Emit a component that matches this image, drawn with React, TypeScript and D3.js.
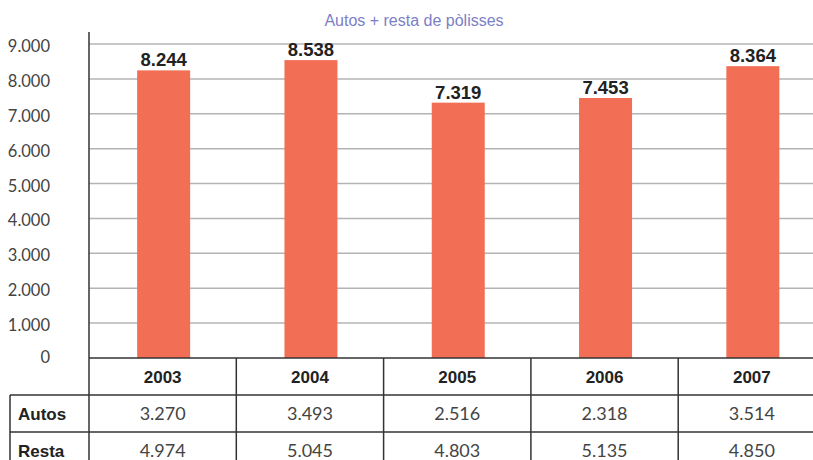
import React from 'react'
import * as d3 from 'd3'

const years = ['2003', '2004', '2005', '2006', '2007']
const autos = [3270, 3493, 2516, 2318, 3514]
const resta = [4974, 5045, 4803, 5135, 4850]
const totals = [8244, 8538, 7319, 7453, 8364]
const yTicks = [0, 1000, 2000, 3000, 4000, 5000, 6000, 7000, 8000, 9000]
const rowLabels = ['Autos', 'Resta']

const W = 813
const H = 460
const fmt = (v: number) => d3.format(',')(v).replace(/,/g, '.')

function App() {
  const left = 89
  const colW = 147.3
  const y = d3.scaleLinear().domain([0, 9000]).range([358, 44])
  const x = d3.scaleBand<string>().domain(years).range([left, left + colW * years.length])
  const barW = 53
  const rowY = [358, 395, 432, 469]
  const rows = [autos, resta]
  const light = 'Lato, "DejaVu Sans", sans-serif'
  const bold = '"Liberation Sans", Arial, sans-serif'

  return (
    <svg width={W} height={H} style={{ position: 'absolute', left: 0, top: 0, background: '#fff' }}>
      {/* title */}
      <text x={414} y={26} textAnchor="middle" fill="#7b80c6" fontSize={16}
        fontFamily='"Liberation Sans Narrow", "Liberation Sans", sans-serif'>
        Autos + resta de pòlisses
      </text>

      {/* gridlines */}
      {yTicks.filter(t => t > 0).map(t => (
        <line key={t} x1={left} x2={W} y1={y(t)} y2={y(t)} stroke="#b4b4b4" strokeWidth={1.5} />
      ))}

      {/* y tick labels */}
      {yTicks.map(t => (
        <text key={t} x={50} y={y(t) + (t === 0 ? 5 : 8)} textAnchor="end" fill="#444"
          fontSize={16.5} fontFamily={light}>
          {fmt(t)}
        </text>
      ))}

      {/* bars */}
      {years.map((yr, i) => {
        const cx = x(yr)! + x.bandwidth() / 2
        return (
          <g key={yr}>
            <rect x={cx - barW / 2 + 1} y={y(totals[i])} width={barW} height={y(0) - y(totals[i])}
              fill="#f26e55" />
            <text x={cx + 1} y={y(totals[i]) - 4} textAnchor="middle" fill="#222" fontWeight="bold"
              fontSize={18.5} fontFamily={bold}>
              {fmt(totals[i])}
            </text>
          </g>
        )
      })}

      {/* y axis line */}
      <line x1={left} x2={left} y1={32} y2={H} stroke="#333" strokeWidth={1.5} />

      {/* table horizontal lines */}
      <line x1={left} x2={W} y1={rowY[0]} y2={rowY[0]} stroke="#333" strokeWidth={1.5} />
      <line x1={10} x2={W} y1={rowY[1]} y2={rowY[1]} stroke="#333" strokeWidth={1.5} />
      <line x1={10} x2={W} y1={rowY[2]} y2={rowY[2]} stroke="#333" strokeWidth={1.5} />
      <line x1={10} x2={10} y1={rowY[1]} y2={H} stroke="#333" strokeWidth={1.5} />

      {/* column separators */}
      {years.slice(1).map(yr => (
        <line key={yr} x1={x(yr)!} x2={x(yr)!} y1={rowY[0]} y2={H} stroke="#333" strokeWidth={1.5} />
      ))}

      {/* year headers */}
      {years.map(yr => (
        <text key={yr} x={x(yr)! + x.bandwidth() / 2} y={rowY[0] + 25} textAnchor="middle"
          fill="#222" fontWeight="bold" fontSize={17} fontFamily={bold}>
          {yr}
        </text>
      ))}

      {/* row labels and values */}
      {rows.map((vals, r) => (
        <g key={r}>
          <text x={18} y={rowY[r + 1] + 25} fill="#222" fontWeight="bold" fontSize={17} fontFamily={bold}>
            {rowLabels[r]}
          </text>
          {vals.map((v, i) => (
            <text key={i} x={x(years[i])! + x.bandwidth() / 2} y={rowY[r + 1] + 25} textAnchor="middle"
              fill="#444" fontSize={18} fontFamily={light}>
              {fmt(v)}
            </text>
          ))}
        </g>
      ))}
    </svg>
  )
}

export default App
